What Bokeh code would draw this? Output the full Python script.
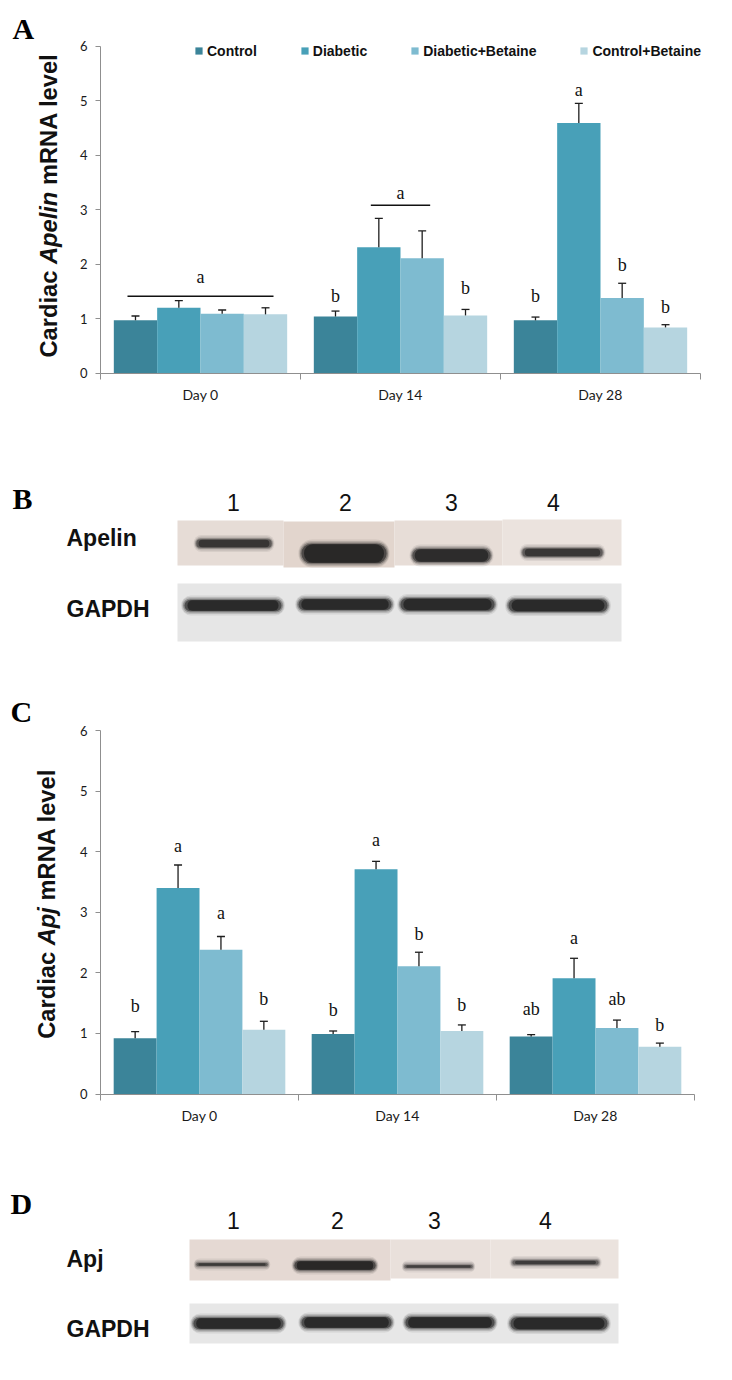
import math
from bokeh.plotting import figure
from bokeh.models import (ColumnDataSource, Range1d, FixedTicker, Whisker, TeeHead,
                          Legend, LegendItem)
from bokeh.layouts import column
from bokeh.embed import file_html
from bokeh.resources import INLINE
from bokeh.core.properties import value

# ---------------- data ----------------
days = ["Day 0", "Day 14", "Day 28"]
groups = ["Control", "Diabetic", "Diabetic+Betaine", "Control+Betaine"]
colors = ["#3b8499", "#48a0b8", "#7ebbd0", "#b6d5e0"]

# Panel A: cardiac Apelin mRNA (mean and top of SEM bar)
apelin_control = [0.97, 1.04, 0.97]
apelin_diabetic = [1.20, 2.31, 4.59]
apelin_diab_bet = [1.09, 2.11, 1.38]
apelin_ctrl_bet = [1.08, 1.06, 0.84]
apelin_control_err = [1.05, 1.14, 1.03]
apelin_diabetic_err = [1.33, 2.84, 4.95]
apelin_diab_bet_err = [1.16, 2.61, 1.65]
apelin_ctrl_bet_err = [1.20, 1.17, 0.89]
# letters: (text, day index, bar index, y)
apelin_letters = [("b", 1, 0, 1.42), ("b", 1, 3, 1.57), ("b", 2, 0, 1.41),
                  ("a", 2, 1, 5.20), ("b", 2, 2, 1.98), ("b", 2, 3, 1.21)]
# brackets: (text, day index, first bar, last bar, line y, text y)
apelin_brackets = [("a", 0, 0, 3, 1.41, 1.77), ("a", 1, 1, 2, 3.08, 3.31)]

# Panel C: cardiac Apj mRNA
apj_control = [0.92, 0.99, 0.95]
apj_diabetic = [3.40, 3.71, 1.91]
apj_diab_bet = [2.38, 2.11, 1.09]
apj_ctrl_bet = [1.06, 1.04, 0.78]
apj_control_err = [1.03, 1.04, 0.98]
apj_diabetic_err = [3.78, 3.84, 2.24]
apj_diab_bet_err = [2.60, 2.34, 1.22]
apj_ctrl_bet_err = [1.20, 1.14, 0.84]
apj_letters = [("b", 0, 0, 1.46), ("a", 0, 1, 4.09), ("a", 0, 2, 2.98), ("b", 0, 3, 1.57),
               ("b", 1, 0, 1.39), ("a", 1, 1, 4.20), ("b", 1, 2, 2.64), ("b", 1, 3, 1.47),
               ("ab", 2, 0, 1.41), ("a", 2, 1, 2.58), ("ab", 2, 2, 1.57), ("b", 2, 3, 1.14)]
apj_brackets = []

y_ticks = [0, 1, 2, 3, 4, 5, 6]
lane_labels = ["1", "2", "3", "4"]

# Western blot B (Apelin / GAPDH), picture coordinates
b_lane_num_x = [233, 345, 451, 553]
b_target_x = [233.5, 343.5, 451, 562]
b_target_y = [543, 553, 555, 552]
b_target_w = [77, 87, 80, 82]
b_target_h = [8, 19, 13, 8]
b_target_int = [0.85, 1.0, 0.95, 0.85]
b_gapdh_x = [232.5, 344.5, 447, 557.5]
b_gapdh_y = [605, 604, 604, 605]
b_gapdh_w = [99, 95, 96, 101]
b_gapdh_h = [11, 11, 12, 12]
b_gapdh_int = [1.0, 1.0, 1.0, 1.0]

# Western blot D (Apj / GAPDH)
d_lane_num_x = [233, 337, 434, 545]
d_target_x = [231.5, 334.5, 438, 555]
d_target_y = [1264, 1265, 1266, 1262]
d_target_w = [73, 83, 70, 88]
d_target_h = [3, 9, 3, 4]
d_target_int = [0.8, 1.0, 0.75, 0.8]
d_gapdh_x = [238, 346, 449.5, 558.5]
d_gapdh_y = [1323, 1322, 1322, 1323]
d_gapdh_w = [92, 92, 91, 99]
d_gapdh_h = [11, 11, 11, 12]
d_gapdh_int = [1.0, 1.0, 1.0, 1.0]

# ---------------- helpers ----------------
AW = {"C": 722, "a": 556, "r": 389, "d": 611, "i": 278, "c": 556, "A": 722, "p": 611,
      "e": 556, "l": 278, "n": 611, "m": 889, "R": 722, "N": 722, "v": 556, "j": 278, " ": 278}


def tw(s, fs):
    return sum(AW.get(ch, 556) for ch in s) * fs / 1000.0


BW = 0.2167  # bar width (category units)
TICK_FONT = "Lato"
W = 724
AXIS_GREY = "#8f8f8f"


def bar_panel(H, y_top, zero_px, six_px, x0_px, x3_px, series, uppers, singles, brackets,
              ylab, letter, lab_center_px, lab_x_px, letter_px, legend):
    ppy = (zero_px - six_px) / 6.0
    ppx = (x3_px - x0_px) / 3.0
    ys = -(y_top + H - zero_px) / ppy
    ye = (zero_px - y_top) / ppy
    xs = -x0_px / ppx
    xe = (W - x0_px) / ppx
    p = figure(width=W, height=H, title=None, x_range=Range1d(xs, xe), y_range=Range1d(ys, ye),
               output_backend="svg", toolbar_location=None, min_border=0)
    p.outline_line_color = None
    p.grid.visible = False
    p.background_fill_color = "white"

    renderers = []
    for gi, (g, col) in enumerate(zip(groups, colors)):
        xs_ = [di + 0.5 + (gi - 1.5) * BW for di in range(len(days))]
        src = ColumnDataSource(dict(x=xs_, top=series[gi], upper=uppers[gi]))
        r = p.vbar(x="x", top="top", width=BW, source=src, fill_color=col, line_color=None)
        renderers.append(r)
        wh = Whisker(base="x", lower="top", upper="upper", source=src,
                     line_color="#1e1e1e", line_width=1.3, level="annotation",
                     lower_head=None,
                     upper_head=TeeHead(size=8, line_color="#1e1e1e", line_width=1.3))
        p.add_layout(wh)

    def bx(di, bi):
        return di + 0.5 + (bi - 1.5) * BW

    tx, ty, tt = [], [], []
    for t, di, bi, y in singles:
        tx.append(bx(di, bi)); ty.append(y); tt.append(t)
    sx0, sx1, sy = [], [], []
    for t, di, b0, b1, yl, yt in brackets:
        sx0.append(bx(di, b0) - 0.04); sx1.append(bx(di, b1) + 0.04); sy.append(yl)
        tx.append((bx(di, b0) + bx(di, b1)) / 2); ty.append(yt); tt.append(t)
    p.text(x="x", y="y", text="t", source=ColumnDataSource(dict(x=tx, y=ty, t=tt)),
           text_font=value("Liberation Serif"), text_font_size="18px",
           text_align="center", text_baseline="middle", text_color="#111111")
    if sx0:
        p.segment(x0=sx0, y0=sy, x1=sx1, y1=sy, line_color="#111111", line_width=1.5)

    # axes drawn at the data origin, spanning only the data area
    yax = p.yaxis[0]
    yax.fixed_location = 0
    yax.bounds = (0, 6)
    yax.ticker = FixedTicker(ticks=y_ticks)
    yax.minor_tick_line_color = None
    yax.major_tick_out = 5
    yax.major_tick_in = 0
    yax.major_label_standoff = 8
    yax.axis_line_color = AXIS_GREY
    yax.major_tick_line_color = AXIS_GREY
    yax.major_label_text_font = TICK_FONT
    yax.major_label_text_font_size = "13px"
    yax.major_label_text_color = "#1a1a1a"

    xax = p.xaxis[0]
    xax.fixed_location = 0
    xax.bounds = (0, 3)
    xax.ticker = FixedTicker(ticks=[0.5, 1.5, 2.5], minor_ticks=[0, 1, 2, 3])
    xax.major_label_overrides = {0.5: days[0], 1.5: days[1], 2.5: days[2]}
    xax.major_tick_line_color = None
    xax.major_tick_out = 0
    xax.major_tick_in = 0
    xax.minor_tick_out = 6
    xax.minor_tick_in = 0
    xax.minor_tick_line_color = AXIS_GREY
    xax.axis_line_color = AXIS_GREY
    xax.major_label_standoff = 7
    xax.major_label_text_font = TICK_FONT
    xax.major_label_text_font_size = "14px"
    xax.major_label_text_color = "#1a1a1a"

    # rotated y label with italic gene name (text centred on its cap line)
    pre, ital, post = ylab
    fs = 23.7
    sp = tw(" ", fs)
    total = tw(pre, fs) + sp + tw(ital, fs) + sp + tw(post, fs)
    start = (zero_px - lab_center_px) - total / 2.0   # px above the x axis
    pre_end = start + tw(pre, fs)
    ital_c = pre_end + sp + tw(ital, fs) / 2.0
    post_start = pre_end + sp + tw(ital, fs) + sp
    xd = (lab_x_px - x0_px) / ppx
    for txt, ypx, al, st in [(pre, pre_end, "right", "bold"), (ital, ital_c, "center", "bold italic"),
                             (post, post_start, "left", "bold")]:
        p.text(x=[xd], y=[ypx / ppy], text=[txt], angle=math.pi / 2, text_align=al,
               text_baseline="middle", text_font=value("Liberation Sans"),
               text_font_size=f"{fs}px", text_font_style=st, text_color="#111111")
    # panel letter
    p.text(x=[(letter_px[0] - x0_px) / ppx], y=[(zero_px - letter_px[1]) / ppy], text=[letter],
           text_font=value("Liberation Serif"), text_font_size="30px", text_font_style="bold",
           text_color="#000000", text_align="left", text_baseline="middle")

    if legend:
        items = [LegendItem(label=g, renderers=[r]) for g, r in zip(groups, renderers)]
        lg = Legend(items=items, orientation="horizontal", location=(194, H - (58.5 - y_top)),
                    border_line_color=None, background_fill_alpha=0, padding=0, margin=0,
                    spacing=43, glyph_width=9, glyph_height=9, label_standoff=4,
                    label_height=14, label_text_font="Liberation Sans",
                    label_text_font_size="14px", label_text_font_style="bold",
                    label_text_color="#111111")
        p.add_layout(lg)
    return p


def blot_panel(H, y0, letter, letter_xy, num_x, num_y, names, name_y, boxes, box_cols, bands):
    p = figure(width=W, height=H, title=None, x_range=Range1d(0, W), y_range=Range1d(y0 + H, y0),
               output_backend="svg", toolbar_location=None, x_axis_location=None,
               y_axis_location=None, min_border=0)
    p.outline_line_color = None
    p.grid.visible = False
    x0s, x1s, y0s, y1s = boxes
    p.quad(left=x0s, right=x1s, top=y0s, bottom=y1s, fill_color=box_cols, line_color=None)
    # soft bands: stacked rounded bars of decreasing size
    layers = [(1.05, 9, 0.08), (1.03, 6, 0.14), (1.01, 3, 0.28), (0.98, 0.5, 0.50),
              (0.92, -0.4, 0.60)]
    for (xs, ys, ws, hs, it) in bands:
        for x, y, w, h, v in zip(xs, ys, ws, hs, it):
            for wf, hp, a in layers:
                hh = max(h + (hp if hp > -1 else hp * h), 1.2)
                p.rect(x=[x], y=[y], width=[w * wf], height=[hh],
                       border_radius=int(round(hh / 2.0)),
                       fill_color="#121212", fill_alpha=a * v, line_color=None)
    p.text(x=[letter_xy[0]], y=[letter_xy[1]], text=[letter], text_font=value("Liberation Serif"),
           text_font_size="30px", text_font_style="bold", text_color="#000000",
           text_baseline="middle", text_align="left")
    p.text(x=num_x, y=[num_y] * 4, text=lane_labels, text_font=value("Liberation Sans"),
           text_font_size="23px", text_color="#111111", text_align="center",
           text_baseline="middle")
    p.text(x=[66, 66], y=name_y, text=names, text_font=value("Liberation Sans"),
           text_font_size="23px", text_font_style="bold", text_color="#111111",
           text_align="left", text_baseline="middle")
    return p


pA = bar_panel(440, 0, 372.7, 45.7, 100, 700,
               [apelin_control, apelin_diabetic, apelin_diab_bet, apelin_ctrl_bet],
               [apelin_control_err, apelin_diabetic_err, apelin_diab_bet_err, apelin_ctrl_bet_err],
               apelin_letters, apelin_brackets, ("Cardiac", "Apelin", "mRNA level"), "A",
               lab_center_px=205, lab_x_px=48.5, letter_px=(12, 28), legend=True)

pB = blot_panel(220, 440, "B", (12, 498), b_lane_num_x, 501.5, ["Apelin", "GAPDH"], [537, 608],
                ([177, 283, 394, 502, 177], [283, 394, 502, 621, 621],
                 [520, 521, 520, 519, 583], [565, 567, 565, 565, 641]),
                ["#e6dcd6", "#e2d5cd", "#e7ddd7", "#ebe3de", "#e6e6e6"],
                [(b_target_x, b_target_y, b_target_w, b_target_h, b_target_int),
                 (b_gapdh_x, b_gapdh_y, b_gapdh_w, b_gapdh_h, b_gapdh_int)])

pC = bar_panel(490, 660, 1093.5, 730, 100, 694,
               [apj_control, apj_diabetic, apj_diab_bet, apj_ctrl_bet],
               [apj_control_err, apj_diabetic_err, apj_diab_bet_err, apj_ctrl_bet_err],
               apj_letters, apj_brackets, ("Cardiac", "Apj", "mRNA level"), "C",
               lab_center_px=903.3, lab_x_px=46.5, letter_px=(10, 711), legend=False)

pD = blot_panel(222, 1150, "D", (10, 1203), d_lane_num_x, 1219.5, ["Apj", "GAPDH"], [1258.5, 1328],
                ([189, 390, 490, 189], [390, 490, 618, 618],
                 [1239, 1239, 1239, 1303], [1280, 1278, 1278, 1343]),
                ["#e5d9d3", "#e9e0db", "#ebe3de", "#e7e7e7"],
                [(d_target_x, d_target_y, d_target_w, d_target_h, d_target_int),
                 (d_gapdh_x, d_gapdh_y, d_gapdh_w, d_gapdh_h, d_gapdh_int)])

layout = column(pA, pB, pC, pD, spacing=0)
open("out.html", "w").write(file_html(layout, INLINE))
